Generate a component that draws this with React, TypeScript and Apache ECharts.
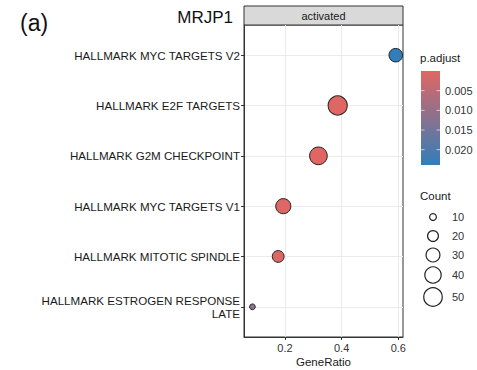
import React, { useEffect, useRef } from "react";
import * as echarts from "echarts";

// ---- data (bottom to top) ----
const categories = [
  "HALLMARK ESTROGEN RESPONSE\nLATE",
  "HALLMARK MITOTIC SPINDLE",
  "HALLMARK MYC TARGETS V1",
  "HALLMARK G2M CHECKPOINT",
  "HALLMARK E2F TARGETS",
  "HALLMARK MYC TARGETS V2",
];
const geneRatio = [0.085, 0.176, 0.194, 0.318, 0.386, 0.591];
const pAdjust = [0.0115, 0.0006, 0.0005, 0.0001, 0.0001, 0.0239];
const counts = [8, 23, 35, 46, 53, 29];

const xTickLabels = [0.2, 0.4, 0.6];
const pTicks = [0.005, 0.01, 0.015, 0.02];
const countBreaks = [10, 20, 30, 40, 50];

const pMin = 0;
const pMax = 0.0239;
const LOW = "#e06663";
const HIGH = "#327eba";
const FONT = "'Liberation Sans', Arial, sans-serif";

const sizeOf = (c: number) => Math.sqrt(Math.max(4, 8.3 * c - 14)) - 1.5;

export default function App() {
  const ref = useRef<HTMLDivElement>(null);
  useEffect(() => {
    if (!ref.current) return;
    const chart = echarts.init(ref.current, undefined, { renderer: "svg" });

    const gridLeft = 244, gridRight = 403, gridTop = 25, gridBottom = 337;
    // colour bar layout
    const cbX = 421, cbY = 71, cbW = 19, cbH = 94;
    const pToY = (p: number) => cbY + ((p - pMin) / (pMax - pMin)) * cbH;
    // size legend layout
    const keyX = 433;
    const keyYs = [217, 236, 255, 275, 297];

    const graphics: any[] = [
      { type: "text", left: 20, top: 11, style: { text: "(a)", font: `23px ${FONT}`, fill: "#111" } },
      { type: "text", x: 233, y: 17, style: { text: "MRJP1", font: `17px ${FONT}`, fill: "#111", align: "right", verticalAlign: "middle" } },
      { type: "rect", shape: { x: gridLeft, y: 6, width: gridRight - gridLeft, height: gridTop - 6 }, style: { fill: "#d9d9d9", stroke: "#333", lineWidth: 1 } },
      { type: "text", x: (gridLeft + gridRight) / 2, y: 16, style: { text: "activated", font: `11px ${FONT}`, fill: "#1a1a1a", align: "center", verticalAlign: "middle" } },
      { type: "text", x: 420, y: 58, style: { text: "p.adjust", font: `11.5px ${FONT}`, fill: "#1a1a1a", verticalAlign: "middle" } },
      {
        type: "rect",
        shape: { x: cbX, y: cbY, width: cbW, height: cbH },
        style: {
          fill: new echarts.graphic.LinearGradient(0, 0, 0, 1, [
            { offset: 0, color: LOW },
            { offset: 1, color: HIGH },
          ]),
        },
      },
      { type: "text", x: 420, y: 196, style: { text: "Count", font: `11.5px ${FONT}`, fill: "#1a1a1a", verticalAlign: "middle" } },
    ];
    pTicks.forEach((p) => {
      const y = pToY(p);
      graphics.push({ type: "line", shape: { x1: cbX, y1: y, x2: cbX + 3.5, y2: y }, style: { stroke: "#fff", lineWidth: 0.8, opacity: 0.8 } });
      graphics.push({ type: "line", shape: { x1: cbX + cbW - 3.5, y1: y, x2: cbX + cbW, y2: y }, style: { stroke: "#fff", lineWidth: 0.8, opacity: 0.8 } });
      graphics.push({ type: "text", x: 445, y, style: { text: p.toFixed(3), font: `11px ${FONT}`, fill: "#333", verticalAlign: "middle" } });
    });
    countBreaks.forEach((c, i) => {
      graphics.push({ type: "circle", shape: { cx: keyX, cy: keyYs[i], r: sizeOf(c) / 2 }, style: { fill: "#fff", stroke: "#222", lineWidth: 1.2 } });
      graphics.push({ type: "text", x: 452, y: keyYs[i], style: { text: String(c), font: `11px ${FONT}`, fill: "#333", verticalAlign: "middle" } });
    });

    const data = categories.map((_, i) => [geneRatio[i], i + 1, pAdjust[i], counts[i]]);

    chart.setOption({
      animation: false,
      textStyle: { fontFamily: FONT },
      grid: {
        left: gridLeft,
        right: 477 - gridRight,
        top: gridTop,
        bottom: 370 - gridBottom,
        outerBoundsMode: "none",
        containLabel: false,
        show: true,
        borderColor: "#333",
        borderWidth: 1,
        backgroundColor: "#fff",
      },
      xAxis: {
        type: "value",
        min: 0.0553,
        max: 0.6166,
        splitNumber: 5,
        name: "GeneRatio",
        nameLocation: "middle",
        nameGap: 19,
        nameMoveOverlap: false,
        nameTextStyle: { fontSize: 11.5, color: "#1a1a1a", fontFamily: FONT },
        axisLine: { show: true, lineStyle: { color: "#333", width: 1 } },
        axisTick: { show: true, length: 3, customValues: xTickLabels, lineStyle: { color: "#333" } },
        axisLabel: {
          customValues: xTickLabels,
          fontSize: 11,
          color: "#333",
          margin: 5,
          fontFamily: FONT,
          formatter: (v: number) => String(Math.round(v * 10) / 10),
        },
        splitLine: { show: true, lineStyle: { color: "#ebebeb", width: 1 } },
      },
      yAxis: {
        type: "value",
        min: 0.4,
        max: 6.6,
        splitNumber: 6,
        axisLine: { show: true, lineStyle: { color: "#333", width: 1 } },
        axisTick: { show: true, length: 3, customValues: [1, 2, 3, 4, 5, 6], lineStyle: { color: "#333" } },
        axisLabel: {
          customValues: [1, 2, 3, 4, 5, 6],
          fontSize: 11.6,
          lineHeight: 12.5,
          color: "#1a1a1a",
          margin: 4,
          fontFamily: FONT,
          formatter: (v: number) => categories[Math.round(v) - 1] ?? "",
        },
        splitLine: { show: true, lineStyle: { color: "#ebebeb", width: 1 } },
      },
      visualMap: {
        show: false,
        type: "continuous",
        dimension: 2,
        min: pMin,
        max: pMax,
        inRange: { color: [LOW, HIGH] },
        seriesIndex: 0,
      },
      series: [
        {
          type: "scatter",
          data,
          clip: false,
          symbolSize: (v: number[]) => sizeOf(v[3]),
          itemStyle: { borderColor: "#222", borderWidth: 1, opacity: 1 },
          z: 5,
        },
      ],
      graphic: graphics,
    });
    return () => chart.dispose();
  }, []);
  return <div ref={ref} style={{ position: "absolute", left: 0, top: 0, width: 477, height: 370 }} />;
}
